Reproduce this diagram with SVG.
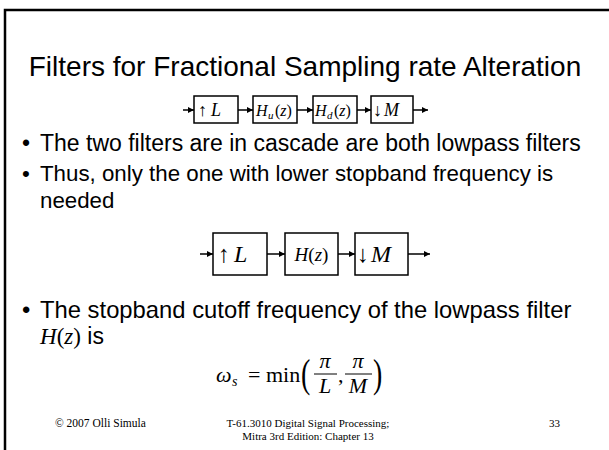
<svg xmlns="http://www.w3.org/2000/svg" width="609" height="450" viewBox="0 0 609 450">
<defs>
<marker id="ah" viewBox="0 0 10 10" refX="10" refY="5" markerWidth="6" markerHeight="6" markerUnits="userSpaceOnUse" orient="auto">
<path d="M0,0 L10,5 L0,10 z" fill="#000"/>
</marker>
<style>
.frame{fill:none;stroke:#000;stroke-width:2.5}
.sans{font-family:"Liberation Sans",Arial,sans-serif;fill:#000}
.serif{font-family:"Liberation Serif","Times New Roman",serif;fill:#000}
.box{fill:#fff;stroke:#000;stroke-width:1.5}
.wire{stroke:#000;stroke-width:1.5;fill:none;marker-end:url(#ah)}
.it{font-style:italic}
</style>
</defs>
<rect width="609" height="450" fill="#fff"/>
<rect class="frame" x="5" y="10" width="620" height="460"/>
<text class="sans" x="305" y="76" font-size="28" text-anchor="middle">Filters for Fractional Sampling rate Alteration</text>

<g id="connectors">
<line class="wire" x1="183" y1="110" x2="194" y2="110"/>
<line class="wire" x1="238" y1="110" x2="253" y2="110"/>
<line class="wire" x1="297" y1="110" x2="313" y2="110"/>
<line class="wire" x1="357" y1="110" x2="371" y2="110"/>
<line class="wire" x1="413" y1="110" x2="428" y2="110"/>
<line class="wire" x1="200" y1="254" x2="213" y2="254"/>
<line class="wire" x1="267" y1="254" x2="285" y2="254"/>
<line class="wire" x1="338" y1="254" x2="355" y2="254"/>
<line class="wire" x1="408" y1="254" x2="430" y2="254"/>
</g>

<g id="up1">
<rect class="box" x="194" y="96" width="44" height="27"/>
<text class="serif" x="198" y="116" font-size="18" font-weight="bold">↑</text>
<text class="serif it" x="211" y="116" font-size="18">L</text>
</g>
<g id="hu">
<rect class="box" x="253" y="96" width="44" height="27"/>
<text class="serif it" x="256" y="116" font-size="16">H</text>
<text class="serif it" x="268" y="119" font-size="11">u</text>
<text class="serif" x="275" y="116" font-size="16">(<tspan class="it">z</tspan>)</text>
</g>
<g id="hd">
<rect class="box" x="313" y="96" width="44" height="27"/>
<text class="serif it" x="315" y="116" font-size="16">H</text>
<text class="serif it" x="327" y="119" font-size="11">d</text>
<text class="serif" x="334" y="116" font-size="16">(<tspan class="it">z</tspan>)</text>
</g>
<g id="down1">
<rect class="box" x="371" y="96" width="42" height="27"/>
<text class="serif" x="373" y="116" font-size="18" font-weight="bold">↓</text>
<text class="serif it" x="384" y="116" font-size="18">M</text>
</g>

<text class="sans" font-size="23"><tspan x="22" y="151">•</tspan><tspan x="40" y="151">The two filters are in cascade are both lowpass filters</tspan></text>
<text class="sans" font-size="22.3"><tspan x="22" y="181">•</tspan><tspan x="40" y="181">Thus, only the one with lower stopband frequency is</tspan><tspan x="40" y="208">needed</tspan></text>

<g id="up2">
<rect class="box" x="213" y="233" width="54" height="42"/>
<text class="serif" x="218" y="262" font-size="24" font-weight="bold">↑</text>
<text class="serif it" x="234" y="262" font-size="24">L</text>
</g>
<g id="h">
<rect class="box" x="285" y="233" width="53" height="42"/>
<text class="serif" x="311.5" y="261" font-size="19" text-anchor="middle"><tspan class="it">H</tspan>(<tspan class="it">z</tspan>)</text>
</g>
<g id="down2">
<rect class="box" x="355" y="233" width="53" height="42"/>
<text class="serif" x="357" y="262" font-size="24" font-weight="bold">↓</text>
<text class="serif it" x="371" y="262" font-size="24">M</text>
</g>

<text class="sans" font-size="23.8"><tspan x="22" y="318">•</tspan><tspan x="40" y="318">The stopband cutoff frequency of the lowpass filter</tspan></text>
<text class="sans" font-size="23" x="40" y="344"><tspan class="serif it">H</tspan><tspan class="serif">(</tspan><tspan class="serif it">z</tspan><tspan class="serif">)</tspan> is</text>

<g id="formula" class="serif">
<text x="216" y="382" font-size="22" class="it">ω</text>
<text x="232" y="386" font-size="14" class="it">s</text>
<text x="248" y="382" font-size="22">= min</text>
<text x="301" y="387" font-size="40" transform="translate(301,382) scale(0.7,1) translate(-301,-382)">(</text>
<text x="325" y="368" font-size="22" class="it" text-anchor="middle">π</text>
<line x1="314" y1="374" x2="337" y2="374" stroke="#000" stroke-width="1"/>
<text x="325" y="393" font-size="22" class="it" text-anchor="middle">L</text>
<text x="338" y="382" font-size="22">,</text>
<text x="358" y="368" font-size="22" class="it" text-anchor="middle">π</text>
<line x1="345" y1="374" x2="372" y2="374" stroke="#000" stroke-width="1"/>
<text x="358" y="393" font-size="22" class="it" text-anchor="middle">M</text>
<text x="373" y="387" font-size="40" transform="translate(373,382) scale(0.7,1) translate(-373,-382)">)</text>
</g>

<text class="serif" x="55" y="427" font-size="11.5">© 2007 Olli Simula</text>
<text class="serif" font-size="11" text-anchor="middle"><tspan x="308" y="427">T-61.3010 Digital Signal Processing;</tspan><tspan x="308" y="440">Mitra 3rd Edition: Chapter 13</tspan></text>
<text class="serif" x="549" y="427" font-size="11">33</text>
</svg>
